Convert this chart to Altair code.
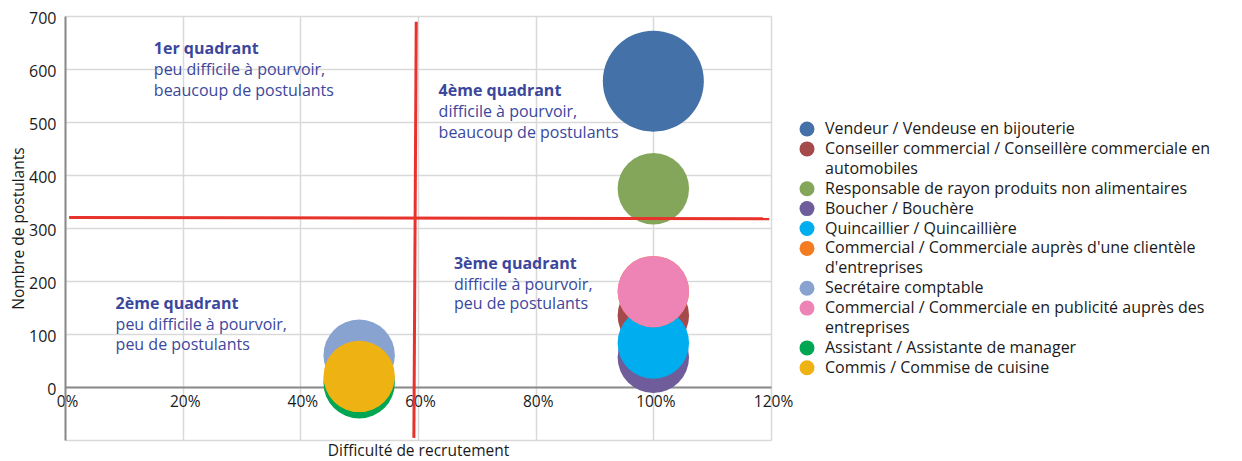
import altair as alt
import pandas as pd

FONT = "Open Sans"

categories = [
    "Vendeur / Vendeuse en bijouterie",
    "Conseiller commercial / Conseillère commerciale en automobiles",
    "Responsable de rayon produits non alimentaires",
    "Boucher / Bouchère",
    "Quincaillier / Quincaillière",
    "Commercial / Commerciale auprès d'une clientèle d'entreprises",
    "Secrétaire comptable",
    "Commercial / Commerciale en publicité auprès des entreprises",
    "Assistant / Assistante de manager",
    "Commis / Commise de cuisine",
]
legend_labels = [
    "Vendeur / Vendeuse en bijouterie",
    "Conseiller commercial / Conseillère commerciale en\nautomobiles",
    "Responsable de rayon produits non alimentaires",
    "Boucher / Bouchère",
    "Quincaillier / Quincaillière",
    "Commercial / Commerciale auprès d'une clientèle\nd'entreprises",
    "Secrétaire comptable",
    "Commercial / Commerciale en publicité auprès des\nentreprises",
    "Assistant / Assistante de manager",
    "Commis / Commise de cuisine",
]
difficulte = [1.0, 1.0, 1.0, 1.0, 1.0, 1.0, 0.5, 1.0, 0.5, 0.5]
postulants = [577, 135, 374, 56, 83, 180, 60, 180, 8, 20]
taille = [2, 1, 1, 1, 1, 1, 1, 1, 1, 1]
colors = ["#4472a8", "#a54a4a", "#84a65b", "#6f5c9a", "#00adee",
          "#f47b20", "#89a3d1", "#ee83b5", "#00a651", "#efb213"]

quad_text = [
    "1er quadrant", "peu difficile à pourvoir,", "beaucoup de postulants",
    "4ème quadrant", "difficile à pourvoir,", "beaucoup de postulants",
    "3ème quadrant", "difficile à pourvoir,", "peu de postulants",
    "2ème quadrant", "peu difficile à pourvoir,", "peu de postulants",
]
quad_x = [0.151, 0.151, 0.151, 0.635, 0.635, 0.635,
          0.661, 0.661, 0.661, 0.086, 0.086, 0.086]
quad_y = [637, 598, 559, 558, 518, 479, 232, 193, 156, 157, 117, 79]
quad_bold = [True, False, False] * 4

ref_x1 = [0.007, 0.597]
ref_y1 = [320, 689]
ref_x2 = [1.197, 0.593]
ref_y2 = [317.5, -96]

x_ticks = [0, 0.2, 0.4, 0.6, 0.8, 1.0, 1.2]
y_ticks = [-100, 0, 100, 200, 300, 400, 500, 600, 700]

bubbles_df = pd.DataFrame({
    "cat": categories, "x": difficulte, "y": postulants,
    "s": taille, "idx": list(range(len(categories))),
})
quad_df = pd.DataFrame({"t": quad_text, "x": quad_x, "y": quad_y, "b": quad_bold})
rules_df = pd.DataFrame({"x": ref_x1, "y": ref_y1, "x2": ref_x2, "y2": ref_y2})

xscale = alt.Scale(domain=[0, 1.2], nice=False)
yscale = alt.Scale(domain=[-100, 700], nice=False)

bubbles = alt.Chart(bubbles_df).mark_circle(opacity=1).encode(
    x=alt.X("x:Q", scale=xscale, title="Difficulté de recrutement",
            axis=alt.Axis(values=x_ticks, format=".0%", offset=-53, ticks=False,
                          labelFlush=False, labelOffset=2,
                          labelPadding=7, domainColor="#8a8a8a", domainWidth=2,
                          gridColor="#d9d9d9", gridWidth=1.5,
                          titleY=63, titleBaseline="middle",
                          labelFontSize=15.5, titleFontSize=15.5, titleFontWeight="normal",
                          labelColor="#1a1a1a", titleColor="#1a1a1a")),
    y=alt.Y("y:Q", scale=yscale, title="Nombre de postulants",
            axis=alt.Axis(values=y_ticks, ticks=False, labelPadding=9, labelOffset=2,
                          labelExpr="datum.value < 0 ? '' : datum.label",
                          domainColor="#8a8a8a", domainWidth=2,
                          gridColor="#d9d9d9", gridWidth=1.5, titlePadding=2,
                          labelFontSize=16, titleFontSize=15.5, titleFontWeight="normal",
                          labelColor="#1a1a1a", titleColor="#1a1a1a")),
    size=alt.Size("s:Q", scale=alt.Scale(domain=[0, 2], range=[0, 10201]), legend=None),
    color=alt.Color("cat:N", scale=alt.Scale(domain=categories, range=colors), legend=None),
    order=alt.Order("idx:Q"),
)

rules = alt.Chart(rules_df).mark_rule(color="#e8322c", strokeWidth=3).encode(
    x="x:Q", y="y:Q", x2="x2:Q", y2="y2:Q"
)

q_bold = alt.Chart(quad_df).transform_filter("datum.b").mark_text(
    align="left", baseline="middle", fontSize=16, fontWeight="bold",
    color="#3b479c", font=FONT
).encode(x="x:Q", y="y:Q", text="t:N")

q_norm = alt.Chart(quad_df).transform_filter("!datum.b").mark_text(
    align="left", baseline="middle", fontSize=16, color="#3b479c", font=FONT
).encode(x="x:Q", y="y:Q", text="t:N")

main = alt.layer(bubbles, rules, q_bold, q_norm).properties(width=706, height=424)

# legend panel
starts = []
cur = 0
for lab in legend_labels:
    starts.append(cur)
    cur += lab.count("\n") + 1
leg_df = pd.DataFrame({"label": legend_labels, "cat": categories,
                       "line": starts, "col": [0] * len(categories)})
leg_base = alt.Chart(leg_df).encode(
    x=alt.X("col:Q", scale=alt.Scale(domain=[0, 1]), axis=None),
    y=alt.Y("line:Q", scale=alt.Scale(domain=[-5.68, 15.63], reverse=True), axis=None),
)
leg_sym = leg_base.mark_circle(size=225, opacity=1).encode(
    color=alt.Color("cat:N", scale=alt.Scale(domain=categories, range=colors), legend=None)
)
leg_txt = leg_base.mark_text(
    align="left", baseline="line-top", dx=18, dy=-9.95, lineBreak="\n",
    lineHeight=19.9, fontSize=16, color="#1a1a1a", font=FONT
).encode(text="label:N")
legend = alt.layer(leg_sym, leg_txt).properties(width=420, height=424)

chart = alt.hconcat(main, legend, spacing=6).properties(
    padding={"left": 3, "top": 2, "right": 0, "bottom": 0}
).configure_view(stroke=None).configure_axis(
    labelFont=FONT, titleFont=FONT
).configure_text(font=FONT)

chart.save("out.html", embed_options={"renderer": "svg", "actions": False})
